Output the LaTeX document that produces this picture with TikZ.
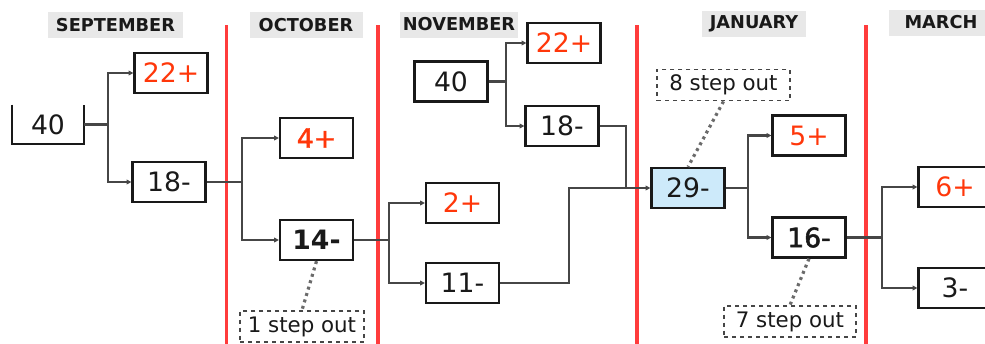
\documentclass[tikz,border=0pt]{standalone}
\usepackage{fontspec}
\setmainfont{DejaVu Sans}
\usetikzlibrary{arrows.meta}
\definecolor{redline}{RGB}{255,60,60}
\definecolor{numred}{RGB}{255,55,10}
\definecolor{numblack}{RGB}{25,25,25}
\definecolor{hdrgray}{RGB}{232,232,232}
\definecolor{conngray}{RGB}{70,70,70}
\definecolor{notegray}{RGB}{70,70,70}
\definecolor{lightblue}{RGB}{205,234,250}
\tikzset{
  numbox/.style={draw=black!90, line width=1.7pt, minimum width=54.75pt, minimum height=30pt,
    inner sep=0pt, font=\fontsize{20}{24}\selectfont, text=numblack},
  redbox/.style={numbox, text=numred},
  hdr/.style={fill=hdrgray, inner sep=0pt, minimum height=19.5pt,
    font=\bfseries\fontsize{13.3}{15}\selectfont, text=numblack},
  conn/.style={draw=conngray, line width=1.8pt},
  arr/.style={conn, -{Triangle[length=3.5pt,width=3.5pt]}},
  note/.style={draw=notegray, dashed, line width=1.1pt, inner sep=0pt,
    minimum height=23.5pt, font=\fontsize{16}{18}\selectfont, text=numblack},
  dots/.style={draw=conngray!80, line width=2.4pt, dash pattern=on 2.2pt off 2.8pt},
  monthline/.style={draw=redline, line width=2.3pt}
}
\begin{document}
\begin{tikzpicture}[x=0.75pt,y=-0.75pt]
\useasboundingbox (0,0) rectangle (985,343);
\clip (0,0) rectangle (985,343);

% month headers
\node[hdr, minimum width=101.25pt] (hsep) at (115.5,25) {SEPTEMBER};
\node[hdr, minimum width=84.75pt] (hoct) at (306,25) {OCTOBER};
\node[hdr, minimum width=88.5pt] (hnov) at (459,24.5) {NOVEMBER};
\node[hdr, minimum width=78pt] (hjan) at (754,23.5) {JANUARY};
\node[hdr, minimum width=78pt] (hmar) at (941,22.5) {MARCH};

% red month separators
\coordinate (r1t) at (226.5,25); \coordinate (r1b) at (226.5,345);
\coordinate (r2t) at (378,25);   \coordinate (r2b) at (378,345);
\coordinate (r3t) at (637,25);   \coordinate (r3b) at (637,345);
\coordinate (r4t) at (866,25);   \coordinate (r4b) at (866,345);
\draw[monthline] (r1t) -- (r1b);
\draw[monthline] (r2t) -- (r2b);
\draw[monthline] (r3t) -- (r3b);
\draw[monthline] (r4t) -- (r4b);

% September
\node[minimum width=53.25pt, minimum height=29.25pt, inner sep=0pt,
      font=\fontsize{20}{24}\selectfont, text=numblack] (s40) at (48,124.5) {40};
\draw[line width=1.7pt, black!90] (s40.north west) -- (s40.south west) -- (s40.south east) -- (s40.north east);
\node[redbox] (s22) at (171,73) {22+};
\node[numbox] (s18) at (169,182) {18-};
\coordinate (sb) at (108,124.5);
\draw[conn] (s40.east) -- (sb);
\draw[arr] (sb) |- (s22.west);
\draw[arr] (sb) |- (s18.west);

% October
\node[redbox] (o4) at (316.5,138) {\addfontfeature{FakeBold=1.5}4+};
\node[numbox, font=\bfseries\fontsize{20}{24}\selectfont] (o14) at (316.5,240) {14-};
\coordinate (ob) at (242,182);
\draw[conn] (s18.east) -- (ob);
\draw[arr] (ob) |- (o4.west);
\draw[arr] (ob) |- (o14.west);
\node[note, minimum width=93pt] (st1) at (302,326.5) {1 step out};
\draw[dots] (o14.south) -- (st1.north);

% November
\node[redbox] (n2) at (462.5,203) {2+};
\node[numbox] (n11) at (462.5,283) {11-};
\coordinate (nb) at (389,240);
\draw[conn] (o14.east) -- (nb);
\draw[arr] (nb) |- (n2.west);
\draw[arr] (nb) |- (n11.west);
\node[numbox] (n40) at (451,81.5) {40};
\node[redbox] (n22) at (564,43) {22+};
\node[numbox] (n18) at (562,126) {18-};
\coordinate (nb2) at (506,81.5);
\draw[conn] (n40.east) -- (nb2);
\draw[arr] (nb2) |- (n22.west);
\draw[arr] (nb2) |- (n18.west);

% January
\node[numbox, fill=lightblue] (j29) at (688,188) {29-};
\coordinate (jm1) at (626,126);
\coordinate (jm2) at (626,188);
\coordinate (jm3) at (569,283);
\coordinate (jm4) at (569,188);
\draw[conn] (n18.east) -- (jm1) -- (jm2);
\draw[conn] (n11.east) -- (jm3) -- (jm4) -- (jm2);
\draw[arr] (jm2) -- (j29.west);
\node[redbox] (j5) at (809,135.5) {5+};
\node[numbox] (j16) at (809,237.5) {\addfontfeature{FakeBold=2}16-};
\coordinate (jb) at (748,188);
\draw[conn] (j29.east) -- (jb);
\draw[arr] (jb) |- (j5.west);
\draw[arr] (jb) |- (j16.west);
\node[note, minimum width=99.75pt] (st8) at (723.5,85) {8 step out};
\draw[dots] (st8.south) -- (j29.north);
\node[note, minimum width=99pt] (st7) at (790,321.5) {7 step out};
\draw[dots] (j16.south) -- (st7.north);

% March
\node[redbox] (m6) at (955,187) {6+};
\node[numbox] (m3) at (955,288) {3-};
\coordinate (mb) at (882,237.5);
\draw[conn] (j16.east) -- (mb);
\draw[arr] (mb) |- (m6.west);
\draw[arr] (mb) |- (m3.west);
\end{tikzpicture}
\end{document}
